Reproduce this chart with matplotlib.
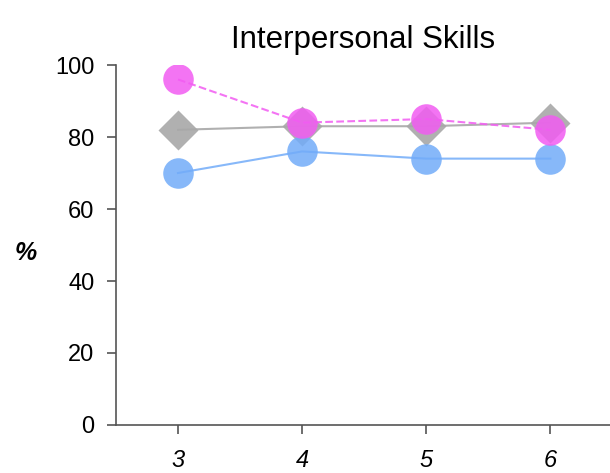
import numpy as np
import matplotlib
matplotlib.use("Agg")
import matplotlib.pyplot as plt

plt.rcParams['font.family'] = ['Liberation Sans', 'DejaVu Sans']

grades = [3, 4, 5, 6]
gray_vals = [82, 83, 83, 84]
blue_vals = [70, 76, 74, 74]
pink_vals = [96, 84, 85, 82]

fig = plt.figure(figsize=(6.1, 4.73), dpi=100)
ax = fig.add_axes([0.19, 0.1015, 0.81, 0.761])

ax.plot(grades, gray_vals, color='#a8a8a8', lw=1.5, marker='D', ms=20,
        mec='none', alpha=0.9, zorder=2)
ax.plot(grades, blue_vals, color='#72acf9', lw=1.5, marker='o', ms=22,
        mec='none', alpha=0.85, zorder=3)
ax.plot(grades, pink_vals, color='#f25cf2', lw=1.5, ls='--', marker='o', ms=22,
        mec='none', alpha=0.85, zorder=4)

ax.set_xlim(2.5, 6.48)
ax.set_ylim(0, 100)
ax.set_xticks(grades)
ax.set_yticks(np.arange(0, 101, 20))
for lab in ax.get_xticklabels():
    lab.set_fontstyle('italic')
ax.tick_params(labelsize=17, length=6.5, width=1.2, color='#555555', pad=9)
ax.tick_params(axis='x', pad=11)
ax.spines['top'].set_visible(False)
ax.spines['right'].set_visible(False)
for s in ['left', 'bottom']:
    ax.spines[s].set_color('#555555')
    ax.spines[s].set_linewidth(1.2)

ax.set_title('Interpersonal Skills', fontsize=22.5, pad=12)
fig.text(0.042, 0.466, '%', fontsize=18, fontweight='bold', fontstyle='italic',
         ha='center', va='center')

fig.savefig('out.png', dpi=100)
